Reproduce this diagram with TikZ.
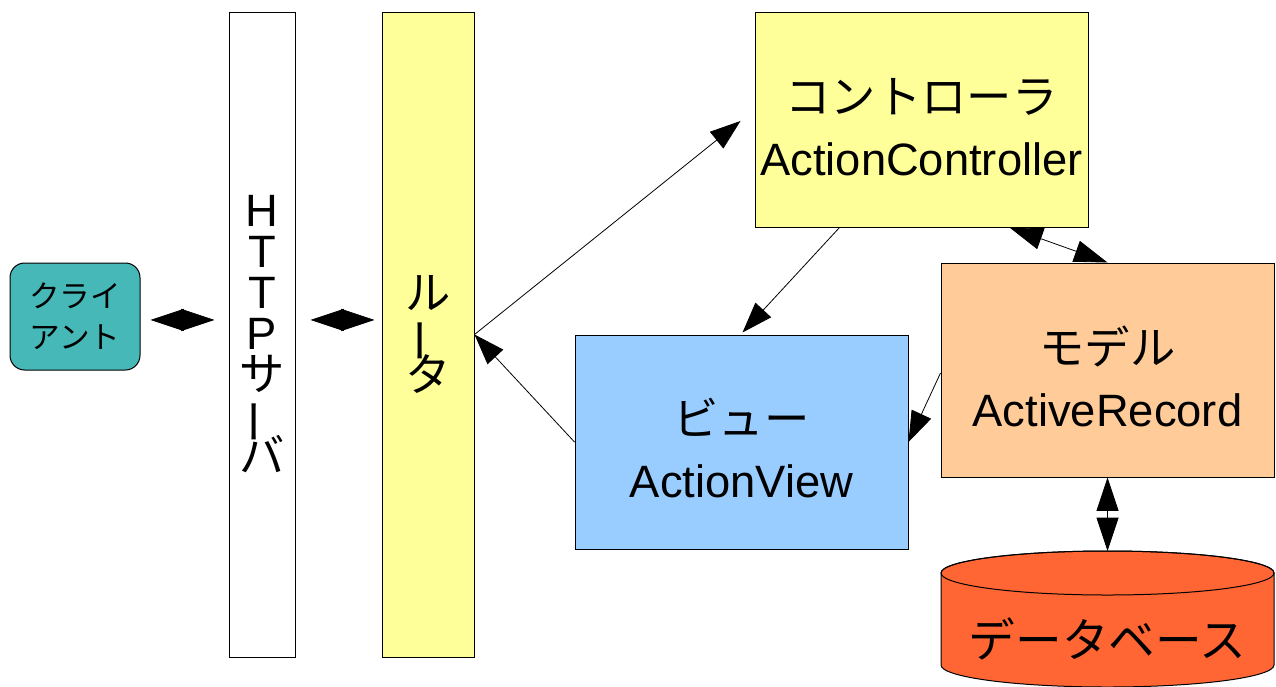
\documentclass[tikz,border=0pt]{standalone}
\usepackage{fontspec}
\setmainfont{Liberation Sans}
\newfontfamily\cjk{Noto Sans CJK JP}
\usetikzlibrary{arrows.meta}
\definecolor{clientc}{HTML}{46B8B8}
\definecolor{yel}{HTML}{FFFF99}
\definecolor{viewc}{HTML}{99CCFF}
\definecolor{modelc}{HTML}{FFCC99}
\definecolor{dbc}{HTML}{FF6633}
\newcommand{\vbar}{\rotatebox[origin=c]{90}{ー}}
\newcommand{\nolsl}{\lineskiplimit=-100pt\relax}
\begin{document}
\begin{tikzpicture}[x=0.75pt,y=-0.75pt,
  box/.style={draw=black,line width=0.75pt,inner sep=0pt,align=center},
  big/.style={inner sep=0pt,align=center,font=\fontsize{34}{46.5}\selectfont},
  tip/.style={-{Triangle[length=23pt,width=16pt]},line width=0.6pt},
  dbl/.style={{Triangle[length=25pt,width=16.5pt]}-{Triangle[length=25pt,width=16.5pt]},line width=0.6pt}]
\useasboundingbox (0,0) rectangle (1276,686);

\node[box,fill=clientc,rounded corners=11pt,minimum width=97.5pt,minimum height=80.25pt,
  font=\cjk\fontsize{23}{31}\selectfont] (client) at (75,316.5) {クライ\\アント};

\node[box,fill=white,minimum width=49.5pt,minimum height=483.75pt,
  font=\fontsize{34}{30.75}\selectfont\nolsl] (http) at (262,334.5)
  {H\\T\\T\\P\\{\cjk サ}\\{\cjk\vbar}\\{\cjk バ}};

\node[box,fill=yel,minimum width=69pt,minimum height=483.75pt,
  font=\cjk\fontsize{34}{30.75}\selectfont\nolsl] (router) at (428,334.5)
  {ル\\\vbar\\タ};

\node[box,fill=yel,minimum width=249.75pt,minimum height=161.25pt] (ctrl) at (921.5,119.5) {};
\node[big,yshift=-5.5pt] (ctrltext) at (ctrl) {{\cjk コントローラ}\\ActionController};

\node[box,fill=viewc,minimum width=249.75pt,minimum height=160.5pt] (view) at (741.5,442) {};
\node[big,yshift=-4.5pt] (viewtext) at (view) {{\cjk ビュー}\\ActionView};

\node[box,fill=modelc,minimum width=249.75pt,minimum height=160.5pt] (model) at (1107.5,370) {};
\node[big,yshift=-4.5pt] (modeltext) at (model) {{\cjk モデル}\\ActiveRecord};

% database cylinder
\filldraw[fill=dbc,draw=black,line width=0.75pt] (941,573) -- (941,665)
  arc[start angle=180,end angle=0,x radius=166.5,y radius=22] -- (1274,573)
  arc[start angle=0,end angle=-180,x radius=166.5,y radius=22] -- cycle;
\draw[line width=0.75pt] (1107.5,573) ellipse [x radius=166.5,y radius=22];
\coordinate (dbtop) at (1107.5,551);
\node[font=\cjk\fontsize{35}{40}\selectfont] (db) at (1107.5,639) {データベース};

% connectors
\draw[dbl,shorten <=7.5pt,shorten >=10.5pt] ([yshift=-2.6pt]client.east) -- ([yshift=-2.6pt]client.east -| http.west);
\draw[dbl,shorten <=11.25pt,shorten >=5.25pt] ([yshift=10.9pt]http.east) -- ([yshift=10.9pt]router.west);
\draw[tip] (router.east) -- ([xshift=-10.5pt,yshift=-1.1pt]ctrl.west);
\draw[tip] ([xshift=63.75pt]ctrl.south west) -- ([xshift=126pt,yshift=1.5pt]view.north west);
\draw[tip] (view.west) -- (router.east);
\draw[tip] ([yshift=-2.25pt]model.west) -- (view.east);
\draw[dbl] ([xshift=191.25pt]ctrl.south west) -- (model.north);
\draw[dbl] (model.south) -- (dbtop);
\end{tikzpicture}
\end{document}
